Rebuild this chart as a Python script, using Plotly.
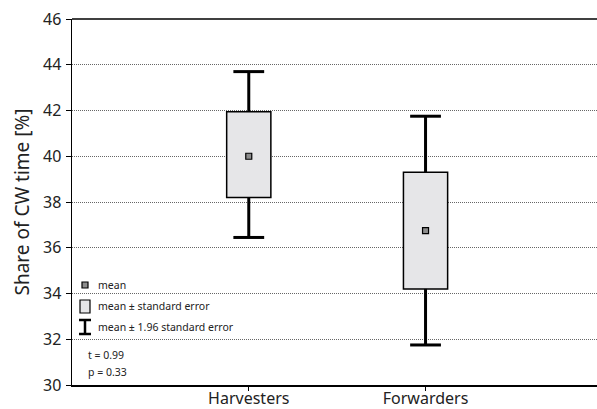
import plotly.graph_objects as go

categories = ["Harvesters", "Forwarders"]
means = [40.0, 36.75]
se_low = [38.2, 34.2]
se_high = [41.95, 39.3]
ci_low = [36.45, 31.75]
ci_high = [43.7, 41.75]
y_ticks = [30, 32, 34, 36, 38, 40, 42, 44, 46]
stats_text = ["t = 0.99", "p = 0.33"]
legend_labels = ["mean", "mean ± standard error", "mean ± 1.96 standard error"]

FONT = "Noto Sans"
xs = [1, 2]

fig = go.Figure()

# whiskers (from box edge to whisker end)
wx, wy = [], []
for i, c in enumerate(xs):
    wx += [c, c, None, c, c, None]
    wy += [se_high[i], ci_high[i], None, se_low[i], ci_low[i], None]
fig.add_trace(go.Scatter(x=wx, y=wy, mode="lines", line=dict(color="black", width=3),
                         hoverinfo="skip", showlegend=False))
# caps
fig.add_trace(go.Scatter(x=xs + xs, y=ci_high + ci_low, mode="markers",
                         marker=dict(symbol="line-ew", size=22, line=dict(color="black", width=3)),
                         hoverinfo="skip", showlegend=False))
# boxes
fig.add_trace(go.Bar(x=xs, y=[h - l for h, l in zip(se_high, se_low)], base=se_low, width=0.25,
                     marker=dict(color="#e6e6e8", line=dict(color="black", width=1.5)),
                     showlegend=False))
# means
fig.add_trace(go.Scatter(x=xs, y=means, mode="markers",
                         marker=dict(symbol="square", size=6, color="#8c8c8c",
                                     line=dict(color="black", width=1.2)),
                         showlegend=False))

W, H = 597, 409
L, R, T, B = 72, 0, 19, 24
pw, ph = W - L - R, H - T - B
def px(x):
    return (x - L) / pw
def py(y):
    return (H - B - y) / ph

shapes = [
    dict(type="line", xref="paper", yref="paper", x0=0, x1=1, y0=1, y1=1,
         line=dict(color="black", width=1.5)),
    # legend icons
    dict(type="rect", xref="paper", yref="paper", x0=px(82), x1=px(88), y0=py(288), y1=py(282),
         fillcolor="#8c8c8c", line=dict(color="black", width=1.2)),
    dict(type="rect", xref="paper", yref="paper", x0=px(80), x1=px(90), y0=py(313), y1=py(300),
         fillcolor="#e6e6e8", line=dict(color="black", width=1.2)),
    dict(type="line", xref="paper", yref="paper", x0=px(85), x1=px(85), y0=py(334), y1=py(320),
         line=dict(color="black", width=2.5)),
    dict(type="line", xref="paper", yref="paper", x0=px(79), x1=px(91), y0=py(320), y1=py(320),
         line=dict(color="black", width=2.5)),
    dict(type="line", xref="paper", yref="paper", x0=px(79), x1=px(91), y0=py(334), y1=py(334),
         line=dict(color="black", width=2.5)),
]

annotations = []
for lab, yy in zip(legend_labels, [285, 306, 327]):
    annotations.append(dict(xref="paper", yref="paper", x=px(96), y=py(yy), text=lab,
                            showarrow=False, xanchor="left", yanchor="middle",
                            font=dict(family=FONT, size=10.5, color="#222")))
for lab, yy in zip(stats_text, [355, 372]):
    annotations.append(dict(xref="paper", yref="paper", x=px(86), y=py(yy), text=lab,
                            showarrow=False, xanchor="left", yanchor="middle",
                            font=dict(family=FONT, size=10.5, color="#222")))

fig.update_layout(
    width=W, height=H,
    margin=dict(l=L, r=R, t=T, b=B, autoexpand=False),
    paper_bgcolor="white", plot_bgcolor="white",
    font=dict(family=FONT, size=16, color="#222"),
    shapes=shapes, annotations=annotations,
    bargap=0, hovermode=False,
    xaxis=dict(range=[0, 2.97], tickvals=xs, ticktext=categories, showgrid=False,
               showline=True, linecolor="black", linewidth=1.5, ticks="outside",
               ticklen=4, tickcolor="black", zeroline=False, automargin=False,
               ticklabelstandoff=-6, showspikes=False, mirror=False,
               tickfont=dict(family=FONT, size=16)),
    yaxis=dict(range=[y_ticks[0], y_ticks[-1]], tickvals=y_ticks, showgrid=True,
               gridcolor="#666", griddash="1px,1px", gridwidth=1,
               showline=True, linecolor="black", linewidth=1.5, ticks="outside",
               ticklen=5, tickcolor="black", zeroline=False, automargin=False,
               ticklabelstandoff=1, showspikes=False, mirror=False,
               tickfont=dict(family=FONT, size=16),
               title=dict(text="Share of CW time [%]", font=dict(family=FONT, size=19), standoff=8)),
)

fig.write_html("out.html", config={"staticPlot": True, "displayModeBar": False},
               post_script="document.body.style.margin='0';document.body.style.overflow='hidden';")
